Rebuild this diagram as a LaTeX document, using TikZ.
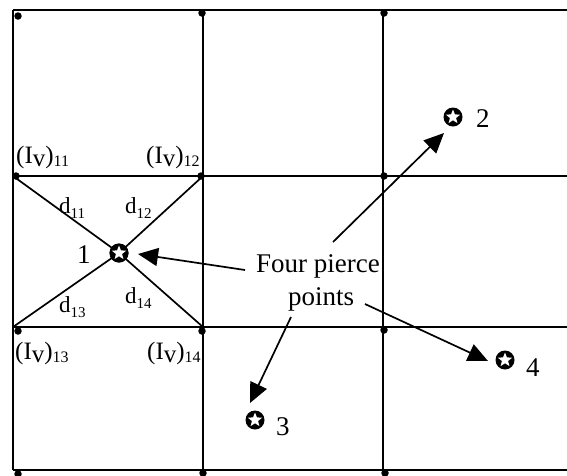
\documentclass[tikz,border=0pt]{standalone}
\usepackage{fontspec}
\setmainfont{Liberation Serif}
\usetikzlibrary{arrows.meta,shapes.geometric}
\newcommand\IvLab[1]{(I\raisebox{-3pt}{v})\raisebox{-3pt}{\fontsize{16}{16}\selectfont #1}}
\newcommand\dLab[1]{d\raisebox{-5pt}{\fontsize{15}{15}\selectfont #1}}
\begin{document}
\begin{tikzpicture}[x=1pt,y=-1pt,
  grid/.style={line width=2.2pt},
  diag/.style={line width=1.7pt},
  arr/.style={line width=1.7pt,-{Triangle[length=20pt,width=18pt]}},
  dot/.style={circle,fill=black,inner sep=0pt,minimum size=7.5pt},
  pp/.style={circle,fill=black,inner sep=0pt,minimum size=19pt},
  wstar/.style={star,star points=5,star point ratio=2.3,fill=white,inner sep=0pt,minimum size=15pt},
  biglbl/.style={inner sep=0pt,anchor=base west,font=\fontsize{27}{30}\selectfont},
  ivlbl/.style={inner sep=0pt,anchor=base west,font=\fontsize{25}{28}\selectfont},
  dlbl/.style={inner sep=0pt,anchor=base west,font=\fontsize{23}{26}\selectfont}]
\useasboundingbox (0,0) rectangle (567,475);
% grid corners
\coordinate (g00) at (13,10);  \coordinate (g10) at (203,10);  \coordinate (g20) at (383,10);  \coordinate (g30) at (567,10);
\coordinate (g01) at (13,176); \coordinate (g11) at (203,176); \coordinate (g21) at (383,176); \coordinate (g31) at (567,176);
\coordinate (g02) at (13,327); \coordinate (g12) at (203,327); \coordinate (g22) at (383,327); \coordinate (g32) at (567,327);
\coordinate (g03) at (13,470); \coordinate (g13) at (203,470); \coordinate (g23) at (383,470); \coordinate (g33) at (567,470);
% grid
\draw[grid] (g00) -- (g30) (g01) -- (g31) (g02) -- (g32) (g03) -- (g33);
\draw[grid] (g00) -- (g03) (g10) -- (g13) (g20) -- (g23);
% pierce points
\node[pp] (p1) at (119,253) {};
\node[pp] (p2) at (453,117) {};
\node[pp] (p3) at (255,420) {};
\node[pp] (p4) at (505,360) {};
% diagonals to point 1
\draw[diag] (g01) -- (p1.center) (g11) -- (p1.center) (g02) -- (p1.center) (g12) -- (p1.center);
% redraw point 1 on top
\node[pp] at (p1) {};
\foreach \p in {p1,p2,p3,p4} \node[wstar] at (\p) {};
% grid dots
\node[dot] (d00) at (18,16) {};
\node[dot] (d10) at (202,13) {};
\node[dot] (d20) at (384,13) {};
\node[dot] (d01) at (16,176) {};
\node[dot] (d11) at (201,176) {};
\node[dot] (d21) at (384,176) {};
\node[dot] (d02) at (18,331) {};
\node[dot] (d12) at (202,331) {};
\node[dot] (d22) at (384,330) {};
\node[dot] (d03) at (18,474) {};
\node[dot] (d13) at (203,473) {};
\node[dot] (d23) at (385,473) {};
% labels
\node[biglbl] (n1) at (77,263) {1};
\node[biglbl] (n2) at (476,127) {2};
\node[biglbl] (n3) at (276,435) {3};
\node[biglbl] (n4) at (526,376) {4};
\node[biglbl] (fp) at (256,272) {Four pierce};
\node[biglbl] (pts) at (288,305) {points};
\node[ivlbl] (i11) at (16,163) {\IvLab{11}};
\node[ivlbl] (i12) at (146,163) {\IvLab{12}};
\node[ivlbl] (i13) at (15,359) {\IvLab{13}};
\node[ivlbl] (i14) at (147,359) {\IvLab{14}};
\node[dlbl] (e11) at (59,213) {\dLab{11}};
\node[dlbl] (e12) at (125,213) {\dLab{12}};
\node[dlbl] (e13) at (59,312) {\dLab{13}};
\node[dlbl] (e14) at (125,303) {\dLab{14}};
% arrows
\coordinate (a1s) at (245,270); \coordinate (a1e) at (138,254);
\coordinate (a2s) at (333,242); \coordinate (a2e) at (444,133);
\coordinate (a3s) at (291,317); \coordinate (a3e) at (250,403);
\coordinate (a4s) at (365,304); \coordinate (a4e) at (488,361);
\draw[arr] (a1s) -- (a1e);
\draw[arr] (a2s) -- (a2e);
\draw[arr] (a3s) -- (a3e);
\draw[arr] (a4s) -- (a4e);
\end{tikzpicture}
\end{document}
